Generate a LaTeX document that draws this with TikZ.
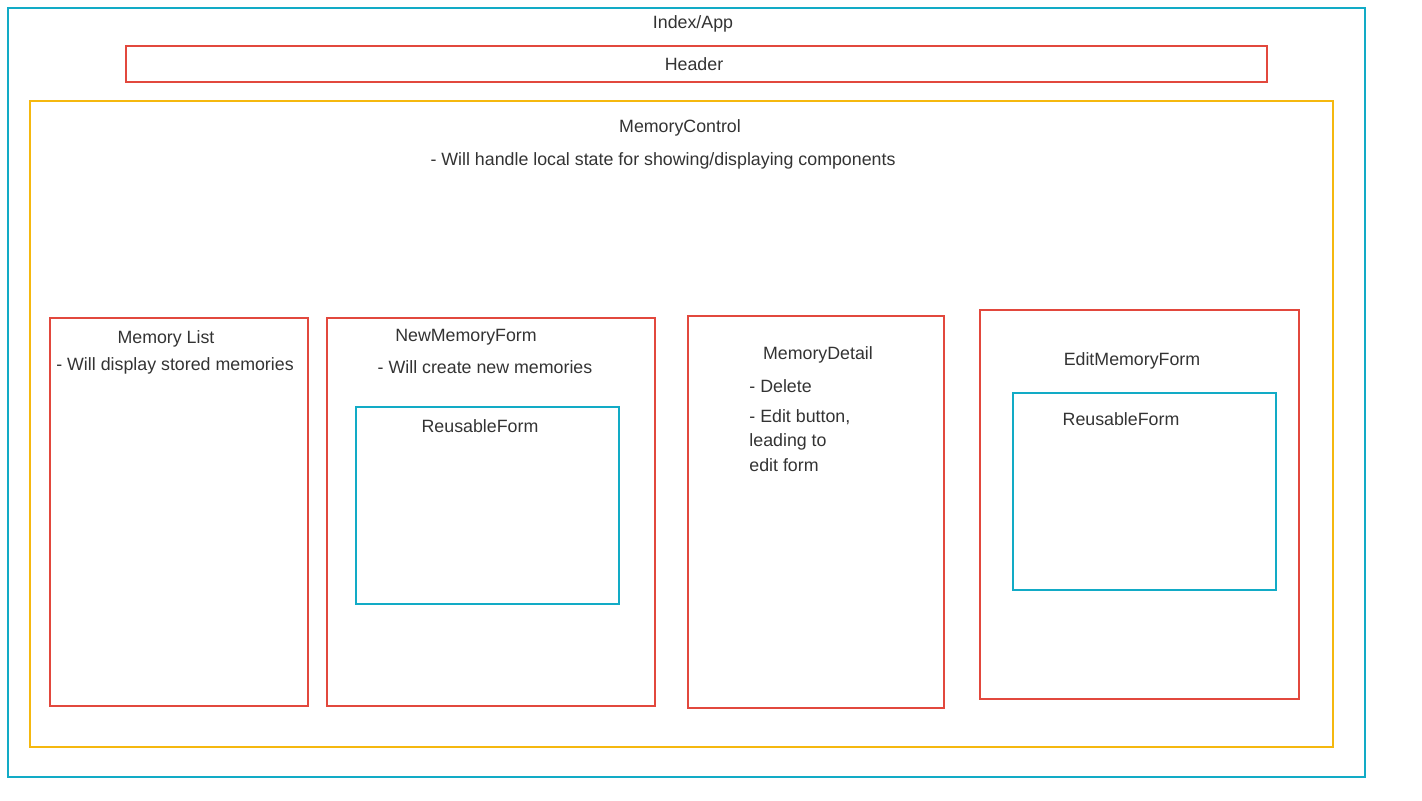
\documentclass[tikz,border=0pt]{standalone}
\usepackage{fontspec}
\setmainfont{Liberation Sans}
\definecolor{cy}{HTML}{12ABC6}
\definecolor{rd}{HTML}{E2483D}
\definecolor{yl}{HTML}{F5B80F}
\definecolor{tx}{HTML}{333333}
\begin{document}
\begin{tikzpicture}[x=0.5pt,y=-0.5pt,
  cybox/.style={draw=cy,line width=1pt},
  rdbox/.style={draw=rd,line width=1pt},
  ylbox/.style={draw=yl,line width=1pt},
  lbl/.style={font=\fontsize{8.9}{10.5}\selectfont,text=tx,inner sep=0pt,yshift=-0.8pt}]
\useasboundingbox (0,0) rectangle (1422,800);
\draw[cybox] (8,8) rectangle (1365,777);
\node[lbl] (app) at (693,22) {Index/App};
\draw[rdbox] (126,46) rectangle (1267,82);
\node[lbl] (hdr) at (694,63) {Header};
\draw[ylbox] (30,101) rectangle (1333,747);
\node[lbl] (mc) at (680,126) {MemoryControl};
\node[lbl] (mcd) at (663,159) {- Will handle local state for showing/displaying components};
% Memory List
\draw[rdbox] (50,318) rectangle (308,706);
\node[lbl] (ml) at (166,337) {Memory List};
\node[lbl] (mld) at (175,364) {- Will display stored memories};
% NewMemoryForm
\draw[rdbox] (327,318) rectangle (655,706);
\node[lbl] (nmf) at (466,336) {NewMemoryForm};
\node[lbl] (nmfd) at (485,366) {- Will create new memories};
\draw[cybox] (356,407) rectangle (619,604);
\node[lbl] (rf1) at (480,425) {ReusableForm};
% MemoryDetail
\draw[rdbox] (688,316) rectangle (944,708);
\node[lbl] (md) at (818,353) {MemoryDetail};
\node[lbl,anchor=west] (md1) at (749,385) {- Delete};
\node[lbl,anchor=west] (md2) at (749,416) {- Edit button,};
\node[lbl,anchor=west] (md3) at (749,440) {leading to};
\node[lbl,anchor=west] (md4) at (749,464) {edit form};
% EditMemoryForm
\draw[rdbox] (980,310) rectangle (1299,699);
\node[lbl] (emf) at (1132,359) {EditMemoryForm};
\draw[cybox] (1013,393) rectangle (1276,590);
\node[lbl] (rf2) at (1121,418) {ReusableForm};
\end{tikzpicture}
\end{document}
